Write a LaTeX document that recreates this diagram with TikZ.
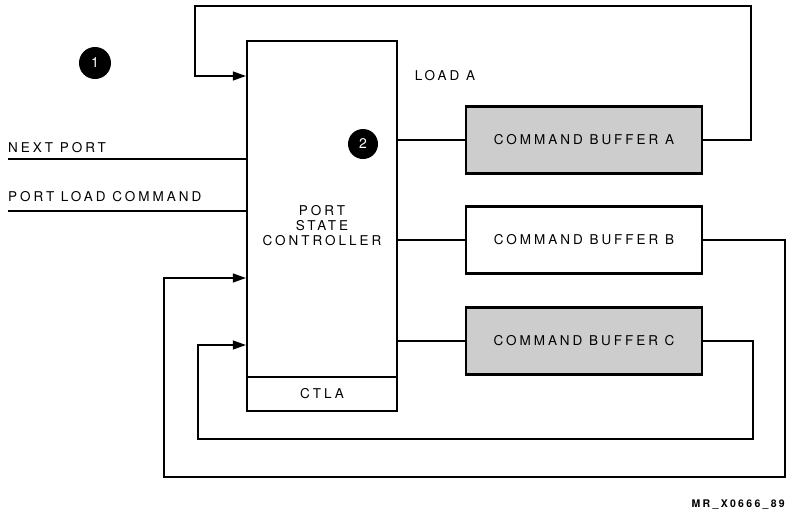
\documentclass[tikz,border=0pt]{standalone}
\usepackage{fontspec}
\usetikzlibrary{arrows.meta}
\newfontfamily\diagfont{TeX Gyre Heros}[LetterSpace=22]
\newfontfamily\numfont{TeX Gyre Heros}
\definecolor{bufshade}{RGB}{205,205,205}
\tikzset{
  blk/.style={draw, line width=2.2pt, fill=white, font=\diagfont\fontsize{13.5}{15}\selectfont, align=center, inner sep=0pt},
  buf/.style={blk, minimum width=236pt, minimum height=67pt},
  shbuf/.style={buf, fill=bufshade},
  wire/.style={line width=1.1pt},
  feed/.style={wire, -{Triangle[length=13pt,width=9pt]}},
  lbl/.style={font=\diagfont\fontsize{13.5}{15}\selectfont, inner sep=0pt},
  callout/.style={circle, fill=black, text=white, inner sep=0pt, font=\numfont\fontsize{14}{16}\selectfont}
}

\begin{document}
\begin{tikzpicture}[x=1pt, y=-1pt]
    \useasboundingbox (0,0) rectangle (787,512);
    % controller and buffers
    \node[blk, minimum width=150pt, minimum height=370pt] (psc) at (322,226) {PORT\\STATE\\CONTROLLER};
    \node[blk, minimum width=150pt, minimum height=34pt, anchor=south] (ctla) at (psc.south) {CTLA};
    \node[shbuf] (bufa) at (584,140) {COMMAND BUFFER A};
    \node[buf] (bufb) at (584,240) {COMMAND BUFFER B};
    \node[shbuf] (bufc) at (584,341) {COMMAND BUFFER C};
    % callouts and labels
    \node[callout, minimum size=32pt] (one) at (95,63) {1};
    \node[callout, minimum size=30pt] (two) at (363,144) {2};
    \node[lbl] (loada) at (445,76) {LOAD A};
    \node[lbl, anchor=south west] (nptxt) at (8,153) {NEXT PORT};
    \node[lbl, anchor=south west] (pltxt) at (8,202) {PORT LOAD COMMAND};
    \node[font=\diagfont\fontsize{10.5}{12}\selectfont\bfseries, anchor=east, inner sep=0pt] (tag) at (785,505) {MR\_X0666\_89};
    % input lines
    \coordinate (np) at (8,159);
    \coordinate (pl) at (8,211);
    \draw[wire] (np) -- (np -| psc.west);
    \draw[wire] (pl) -- (pl -| psc.west);
    % controller to buffers
    \draw[wire] (psc.east |- bufa.west) -- (bufa.west);
    \draw[wire] (psc.east |- bufb.west) -- (bufb.west);
    \draw[wire] (psc.east |- bufc.west) -- (bufc.west);
    % feedback loops
    \coordinate (ra) at (751,6);
    \coordinate (la) at (195,6);
    \coordinate (ina) at (247,76);
    \draw[feed] (bufa.east) -| (ra) -- (la) |- (ina -| psc.west);
    \coordinate (rb) at (785,477);
    \coordinate (lb) at (164,477);
    \coordinate (inb) at (247,278);
    \draw[feed] (bufb.east) -| (rb) -- (lb) |- (inb -| psc.west);
    \coordinate (rc) at (753,439);
    \coordinate (lc) at (198,439);
    \coordinate (inc) at (247,345);
    \draw[feed] (bufc.east) -| (rc) -- (lc) |- (inc -| psc.west);
\end{tikzpicture}
\end{document}
